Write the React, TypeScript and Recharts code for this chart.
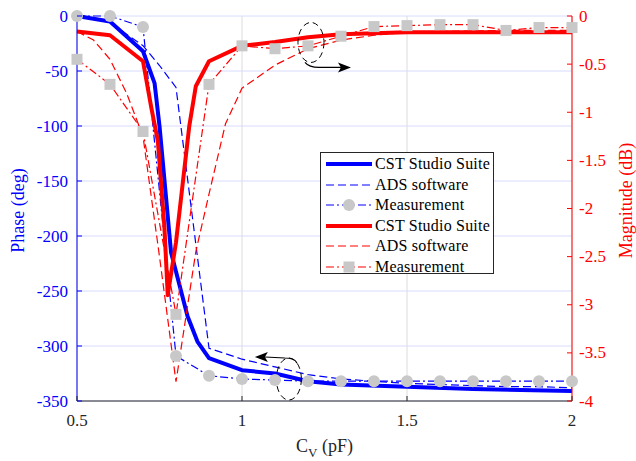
import React from 'react';
import { ComposedChart, Line, XAxis, YAxis, CartesianGrid, Legend, ReferenceDot } from 'recharts';

// ---------- data ----------
const xTicks = [0.5, 1, 1.5, 2];
const phaseTicks = [-350, -300, -250, -200, -150, -100, -50, 0];
const magTicks = [-4, -3.5, -3, -2.5, -2, -1.5, -1, -0.5, 0];

// Phase (deg) - CST
const cvPhaseCst = [0.5, 0.6, 0.7, 0.735, 0.75, 0.785, 0.835, 0.865, 0.9, 1.0, 1.1, 1.2, 1.3, 1.5, 1.7, 2.0];
const phaseCst = [0, -5, -32, -61, -100, -215, -273, -296, -311, -322, -325, -332, -335, -337, -339, -341];
// Phase (deg) - ADS
const cvPhaseAds = [0.5, 0.6, 0.7, 0.75, 0.8, 0.9, 1.0, 1.1, 1.2, 1.3, 1.4, 1.5, 1.6, 1.7, 1.8, 1.9, 2.0];
const phaseAds = [0, -6, -27, -45, -65, -302, -312, -319, -326, -330, -332, -334, -335, -336, -337, -337, -338];
// Phase (deg) - Measurement
const cvMeas = [0.5, 0.6, 0.7, 0.8, 0.9, 1.0, 1.1, 1.2, 1.3, 1.4, 1.5, 1.6, 1.7, 1.8, 1.9, 2.0];
const phaseMeas = [0, 0, -10, -309, -327, -330, -331, -332, -332, -332, -332, -332, -332, -332, -332, -332];

// Magnitude (dB) - CST
const cvMagCst = [0.5, 0.6, 0.7, 0.725, 0.745, 0.765, 0.775, 0.8, 0.84, 0.86, 0.9, 1.0, 1.1, 1.2, 1.3, 1.5, 2.0];
const magCst = [-0.16, -0.2, -0.47, -0.95, -1.3, -2.2, -2.9, -2.35, -1.15, -0.73, -0.47, -0.31, -0.27, -0.22, -0.19, -0.17, -0.17];
// Magnitude (dB) - ADS
const cvMagAds = [0.5, 0.55, 0.6, 0.65, 0.7, 0.75, 0.8, 0.86, 0.9, 0.95, 1.0, 1.1, 1.2, 1.3, 1.4, 1.5, 1.6, 1.8, 2.0];
const magAds = [-0.16, -0.25, -0.45, -0.8, -1.25, -2.5, -3.8, -2.45, -1.85, -1.12, -0.75, -0.51, -0.34, -0.25, -0.2, -0.17, -0.16, -0.15, -0.15];
// Magnitude (dB) - Measurement
const magMeas = [-0.45, -0.71, -1.2, -3.1, -0.71, -0.31, -0.34, -0.31, -0.21, -0.11, -0.1, -0.09, -0.09, -0.15, -0.12, -0.12];

// annotation anchors (data units)
const noteMag = { x: 1.209, y: -0.275 };
const notePhase = { x: 1.142, y: -330 };

const legendNames = ['CST Studio Suite', 'ADS software', 'Measurement', 'CST Studio Suite', 'ADS software', 'Measurement'];

const zip = (xs: number[], ys: number[]) => xs.map((x, i) => ({ x, y: ys[i] }));

const BLUE = '#0000ff';
const RED = '#ff0000';
const GREY = '#c8c8c8';
const AXIS = '#262626';
const FONT = '"Liberation Serif", "Times New Roman", Times, "DejaVu Serif", serif';
const DASH = '8 4';
const DASHDOT = '8 3 2 3';

const CircleDot = (props: any) => {
  const { cx, cy, index } = props;
  if (cx == null || cy == null) return <g key={`ce-${index}`} />;
  return <circle key={`c-${index}`} cx={cx} cy={cy} r={6} fill={GREY} />;
};
const SquareDot = (props: any) => {
  const { cx, cy, index } = props;
  if (cx == null || cy == null) return <g key={`se-${index}`} />;
  return <rect key={`s-${index}`} x={cx - 5.5} y={cy - 5.5} width={11} height={11} fill={GREY} />;
};

const txt = (size: number, color: string) => ({ fontFamily: FONT, fontSize: size, fill: color });

const LeftTick = (props: any) => {
  const { x, y, payload } = props;
  return (
    <g>
      <line x1={x + 9} y1={y} x2={x + 14} y2={y} stroke={BLUE} />
      <text x={x} y={y} dy="0.33em" textAnchor="end" style={txt(17, BLUE)}>{payload.value}</text>
    </g>
  );
};
const RightTick = (props: any) => {
  const { x, y, payload } = props;
  return (
    <g>
      <line x1={x - 7} y1={y} x2={x - 12} y2={y} stroke={RED} />
      <text x={x} y={y} dy="0.33em" textAnchor="start" style={txt(17, RED)}>{payload.value}</text>
    </g>
  );
};
const BottomTick = (props: any) => {
  const { x, y, payload } = props;
  return (
    <g>
      <line x1={x} y1={y - 13} x2={x} y2={y - 18} stroke={AXIS} />
      <text x={x} y={y} dy="0.71em" textAnchor="middle" style={txt(17, AXIS)}>{payload.value}</text>
    </g>
  );
};
const TopTick = (props: any) => {
  const { x, y } = props;
  return <line x1={x} y1={y} x2={x} y2={y + 5} stroke={AXIS} />;
};

const MagNote = (props: any) => {
  const { cx, cy } = props;
  if (cx == null) return <g />;
  return (
    <g>
      <ellipse cx={cx} cy={cy} rx={13} ry={20} fill="none" stroke="#000" strokeWidth={1} strokeDasharray="6 4" />
      <path d={`M ${cx - 6} ${cy + 20} Q ${cx - 2} ${cy + 25} ${cx + 8} ${cy + 25} L ${cx + 30} ${cy + 25}`} fill="none" stroke="#000" strokeWidth={1.2} />
      <path d={`M ${cx + 40} ${cy + 25} L ${cx + 27} ${cy + 20} L ${cx + 30} ${cy + 25} L ${cx + 27} ${cy + 30} Z`} fill="#000" />
    </g>
  );
};
const PhaseNote = (props: any) => {
  const { cx, cy } = props;
  if (cx == null) return <g />;
  return (
    <g>
      <ellipse cx={cx} cy={cy} rx={12.5} ry={21} fill="none" stroke="#000" strokeWidth={1} strokeDasharray="6 4" />
      <path d={`M ${cx + 8} ${cy - 16} Q ${cx + 6} ${cy - 21} ${cx - 4} ${cy - 21} L ${cx - 24} ${cy - 22}`} fill="none" stroke="#000" strokeWidth={1.2} />
      <path d={`M ${cx - 34} ${cy - 22} L ${cx - 21} ${cy - 27} L ${cx - 24} ${cy - 22} L ${cx - 21} ${cy - 17} Z`} fill="#000" />
    </g>
  );
};

const legendStyles = [
  { color: BLUE, width: 4, dash: undefined as string | undefined, marker: '' },
  { color: BLUE, width: 1.2, dash: DASH, marker: '' },
  { color: BLUE, width: 1.2, dash: DASHDOT, marker: 'circle' },
  { color: RED, width: 4, dash: undefined as string | undefined, marker: '' },
  { color: RED, width: 1.2, dash: DASH, marker: '' },
  { color: RED, width: 1.2, dash: DASHDOT, marker: 'square' },
];

const renderLegend = () => (
  <div style={{ width: 174, height: 122, boxSizing: 'border-box', border: `1px solid ${AXIS}`, background: '#fff', paddingTop: 1 }}>
    {legendNames.map((name, i) => {
      const s = legendStyles[i];
      return (
        <div key={i} style={{ height: 20.5, display: 'flex', alignItems: 'center' }}>
          <svg width={50} height={20} style={{ marginLeft: 3, flex: 'none' }}>
            <line x1={2} y1={10} x2={48} y2={10} stroke={s.color} strokeWidth={s.width} strokeDasharray={s.dash} />
            {s.marker === 'circle' && <circle cx={25} cy={10} r={6} fill={GREY} />}
            {s.marker === 'square' && <rect x={19.5} y={4.5} width={11} height={11} fill={GREY} />}
          </svg>
          <span style={{ fontFamily: FONT, fontSize: 16, color: '#000', marginLeft: 1, whiteSpace: 'nowrap', letterSpacing: 0.2 }}>{name}</span>
        </div>
      );
    })}
  </div>
);

const XLabel = (props: any) => {
  const vb = props.viewBox;
  const cx = vb.x + vb.width / 2;
  return (
    <text x={cx} y={vb.y + 51} textAnchor="middle" style={txt(18, AXIS)}>
      <tspan>C</tspan>
      <tspan fontSize={13} dy={5}>V</tspan>
      <tspan dy={-5}> (pF)</tspan>
    </text>
  );
};
const LeftLabel = (props: any) => {
  const vb = props.viewBox;
  const x = 24;
  const y = vb.y + vb.height / 2 + 2;
  return (
    <text x={x} y={y} transform={`rotate(-90 ${x} ${y})`} textAnchor="middle" style={txt(18, BLUE)}>Phase (deg)</text>
  );
};
const RightLabel = (props: any) => {
  const vb = props.viewBox;
  const x = vb.x + 60;
  const y = vb.y + vb.height / 2 - 8;
  return (
    <text x={x} y={y} transform={`rotate(-90 ${x} ${y})`} textAnchor="middle" style={txt(18, RED)}>Magnitude (dB)</text>
  );
};

export default function App() {
  return (
    <div style={{ position: 'absolute', left: 0, top: 0, background: '#fff' }}>
      <ComposedChart width={636} height={461} margin={{ top: 16, right: 0, bottom: 0, left: 0 }}>
        <CartesianGrid yAxisId="left" vertical={false} stroke="#d8dcff" strokeWidth={1} />
        <CartesianGrid yAxisId="left" horizontal={false} stroke="#dcdcdc" strokeWidth={1} />
        <XAxis type="number" dataKey="x" domain={[0.5, 2]} ticks={xTicks} height={60} tickSize={0} tickMargin={13}
          tick={BottomTick} tickLine={false} axisLine={{ stroke: AXIS }} allowDuplicatedCategory={false} label={<XLabel />} />
        <XAxis xAxisId="top" orientation="top" type="number" dataKey="x" domain={[0.5, 2]} ticks={xTicks} height={0}
          tickSize={0} tickMargin={0} tick={TopTick} tickLine={false} axisLine={{ stroke: AXIS }} />
        <YAxis yAxisId="left" orientation="left" type="number" domain={[-350, 0]} ticks={phaseTicks} width={77}
          tickSize={0} tickMargin={9} tick={LeftTick} tickLine={false} axisLine={{ stroke: BLUE }} label={<LeftLabel />} />
        <YAxis yAxisId="right" orientation="right" type="number" domain={[-4, 0]} ticks={magTicks} width={64}
          tickSize={0} tickMargin={7} tick={RightTick} tickLine={false} axisLine={{ stroke: RED }} label={<RightLabel />} />

        <Line yAxisId="left" data={zip(cvPhaseCst, phaseCst)} dataKey="y" stroke={BLUE} strokeWidth={4} dot={false}
          isAnimationActive={false} strokeLinejoin="round" />
        <Line yAxisId="left" data={zip(cvPhaseAds, phaseAds)} dataKey="y" stroke={BLUE} strokeWidth={1.2} strokeDasharray={DASH}
          dot={false} isAnimationActive={false} />
        <Line yAxisId="left" data={zip(cvMeas, phaseMeas)} dataKey="y" stroke={BLUE} strokeWidth={1.2} strokeDasharray={DASHDOT}
          dot={CircleDot} activeDot={false} isAnimationActive={false} />
        <Line yAxisId="right" data={zip(cvMagCst, magCst)} dataKey="y" stroke={RED} strokeWidth={4} dot={false}
          isAnimationActive={false} strokeLinejoin="round" />
        <Line yAxisId="right" data={zip(cvMagAds, magAds)} dataKey="y" stroke={RED} strokeWidth={1.2} strokeDasharray={DASH}
          dot={false} isAnimationActive={false} />
        <Line yAxisId="right" data={zip(cvMeas, magMeas)} dataKey="y" stroke={RED} strokeWidth={1.2} strokeDasharray={DASHDOT}
          dot={SquareDot} activeDot={false} isAnimationActive={false} />

        <ReferenceDot yAxisId="right" x={noteMag.x} y={noteMag.y} shape={MagNote} />
        <ReferenceDot yAxisId="left" x={notePhase.x} y={notePhase.y} shape={PhaseNote} />

        <Legend content={renderLegend} layout="vertical" align="center" verticalAlign="middle"
          wrapperStyle={{ position: 'absolute', left: 320, top: 152, width: 174, height: 122 }} />
      </ComposedChart>
    </div>
  );
}
